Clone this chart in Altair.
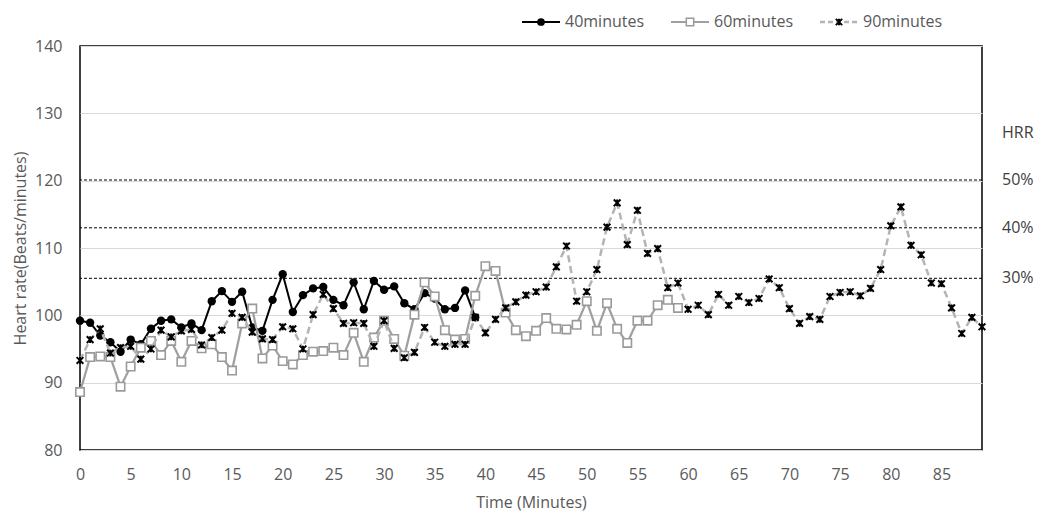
import altair as alt
import pandas as pd

# ---- data ----
min40 = [99.2, 98.9, 97.0, 96.0, 94.6, 96.4, 95.7, 98.0, 99.2, 99.4,
         98.2, 98.8, 97.8, 102.1, 103.6, 102.0, 103.5, 98.2, 97.7, 102.3,
         106.1, 100.5, 103.0, 104.0, 104.2, 102.3, 101.5, 104.9, 100.9, 105.1,
         103.8, 104.3, 101.8, 100.9, 103.3, 102.5, 100.9, 101.1, 103.7, 99.7]
min60 = [88.6, 93.8, 93.9, 93.8, 89.4, 92.4, 95.2, 96.2, 94.1, 96.2,
         93.1, 96.2, 95.1, 95.7, 93.8, 91.8, 98.8, 101.0, 93.6, 95.5,
         93.2, 92.7, 94.1, 94.6, 94.7, 95.2, 94.1, 97.4, 93.1, 96.7,
         99.2, 96.5, 94.0, 100.1, 104.9, 102.8, 97.8, 96.4, 96.5, 102.9,
         107.3, 106.6, 100.4, 97.8, 96.9, 97.7, 99.6, 98.0, 97.9, 98.6,
         102.1, 97.7, 101.8, 98.0, 95.9, 99.2, 99.2, 101.5, 102.3, 101.1]
min90 = [93.3, 96.4, 98.0, 94.4, 95.2, 95.4, 93.5, 95.0, 97.8, 96.8,
         97.7, 97.9, 95.6, 96.7, 97.8, 100.3, 99.7, 97.5, 96.5, 96.4,
         98.3, 98.0, 95.0, 100.1, 103.1, 101.0, 98.8, 98.9, 98.8, 95.4,
         99.2, 95.1, 93.7, 94.5, 98.2, 96.0, 95.4, 95.7, 95.7, 99.7,
         97.4, 99.4, 101.1, 102.0, 103.0, 103.5, 104.2, 107.2, 110.3, 102.1,
         103.5, 106.8, 113.1, 116.7, 110.5, 115.6, 109.2, 109.9, 104.1, 104.8,
         100.9, 101.5, 100.1, 103.1, 101.5, 102.8, 101.9, 102.5, 105.4, 104.1,
         101.0, 98.8, 99.8, 99.4, 102.8, 103.4, 103.5, 102.9, 104.0, 106.8,
         113.3, 116.1, 110.4, 109.0, 104.8, 104.7, 101.1, 97.3, 99.7, 98.3]
hrr_values = [120.1, 113.0, 105.5]
hrr_labels = ["50%", "40%", "30%"]
x_ticks = list(range(0, 90, 5))
y_ticks = list(range(80, 150, 10))
legend_labels = ["40minutes", "60minutes", "90minutes"]

FONT = "Open Sans"
GREY_TXT = "#595959"
XMARK = "M-1,-1L1,1M1,-1L-1,1M0,-1L0,1"

d40 = pd.DataFrame({"t": list(range(len(min40))), "v": min40})
d60 = pd.DataFrame({"t": list(range(len(min60))), "v": min60})
d90 = pd.DataFrame({"t": list(range(len(min90))), "v": min90})
dh = pd.DataFrame({"v": hrr_values, "label": hrr_labels})
dummy = pd.DataFrame({"a": [0]})

xenc = alt.X("t:Q", scale=alt.Scale(domain=[0, 89], nice=False),
             axis=alt.Axis(values=x_ticks, title="Time (Minutes)", grid=False,
                           ticks=False, tickSize=0, domain=False, labelPadding=16,
                           labelFontSize=16, labelColor=GREY_TXT, labelFont=FONT,
                           titleFontSize=16, titleColor=GREY_TXT, titleFont=FONT,
                           titleFontWeight="normal", titlePadding=12, labelFlush=False))
yenc = alt.Y("v:Q", scale=alt.Scale(domain=[80, 140], nice=False),
             axis=alt.Axis(values=y_ticks, title="Heart rate(Beats/minutes)", grid=True,
                           gridColor="#D9D9D9", gridWidth=1, ticks=False, tickSize=0,
                           domain=False, labelPadding=18, labelFontSize=16,
                           labelColor=GREY_TXT, labelFont=FONT, titleFontSize=16,
                           titleColor=GREY_TXT, titleFont=FONT, titleFontWeight="normal",
                           titlePadding=6))

l40 = alt.Chart(d40).mark_line(color="black", strokeWidth=2).encode(x=xenc, y=yenc)

grid = alt.Chart(dh).mark_rule(color="black", strokeWidth=1, strokeDash=[3, 2]).encode(
    y="v:Q")

hrr_txt = alt.Chart(dh).mark_text(align="left", baseline="middle", font=FONT,
                                  fontSize=16, color="#404040").encode(
    y="v:Q", x=alt.value(922), text="label:N")
hrr_title = alt.Chart(dummy).mark_text(align="left", baseline="middle", font=FONT,
                                       fontSize=16, color="#404040", text="HRR").encode(
    x=alt.value(922), y=alt.value(87))

p40 = alt.Chart(d40).mark_point(shape="circle", filled=True, color="black", size=70,
                                opacity=1).encode(x="t:Q", y="v:Q")
l60 = alt.Chart(d60).mark_line(color="#A0A0A0", strokeWidth=2.25).encode(x="t:Q", y="v:Q")
p60 = alt.Chart(d60).mark_point(shape="square", filled=True, fill="white",
                                stroke="#9A9A9A", strokeWidth=1.6, size=70,
                                opacity=1).encode(x="t:Q", y="v:Q")
l90 = alt.Chart(d90).mark_line(color="#B4B4B4", strokeWidth=2.5,
                               strokeDash=[7, 4]).encode(x="t:Q", y="v:Q")
p90 = alt.Chart(d90).mark_point(shape=XMARK, filled=False, stroke="black",
                                strokeWidth=2, size=45, opacity=1).encode(x="t:Q", y="v:Q")

# ---- manual legend (above the plot) ----
LY = -24
leg = []
entries = [
    (442, dict(color="black", strokeWidth=2), dict(shape="circle", filled=True, color="black", size=60)),
    (591, dict(color="#A0A0A0", strokeWidth=2), dict(shape="square", filled=True, fill="white", stroke="#9A9A9A", strokeWidth=1.5, size=55)),
    (740, dict(color="#B4B4B4", strokeWidth=2.5, strokeDash=[5, 3]), dict(shape=XMARK, filled=False, stroke="black", strokeWidth=2, size=40)),
]
for (x0, lstyle, pstyle), lab in zip(entries, legend_labels):
    leg.append(alt.Chart(dummy).mark_rule(**lstyle).encode(
        x=alt.value(x0), x2=alt.value(x0 + 38), y=alt.value(LY)))
    leg.append(alt.Chart(dummy).mark_point(opacity=1, **pstyle).encode(
        x=alt.value(x0 + 19), y=alt.value(LY)))
    leg.append(alt.Chart(dummy).mark_text(align="left", baseline="middle", font=FONT,
                                          fontSize=16, color=GREY_TXT, text=lab).encode(
        x=alt.value(x0 + 43), y=alt.value(LY)))

chart = alt.layer(l40, grid, p40, l60, p60, l90, p90, hrr_txt, hrr_title, *leg).properties(
    width=902, height=404,
    autosize=alt.AutoSizeParams(type="none"),
    padding={"left": 72, "top": 38, "right": 53, "bottom": 62},
).configure(background="white").configure_view(stroke="black", strokeWidth=1.5)

chart.save("out.html", embed_options={"renderer": "svg", "actions": False})
